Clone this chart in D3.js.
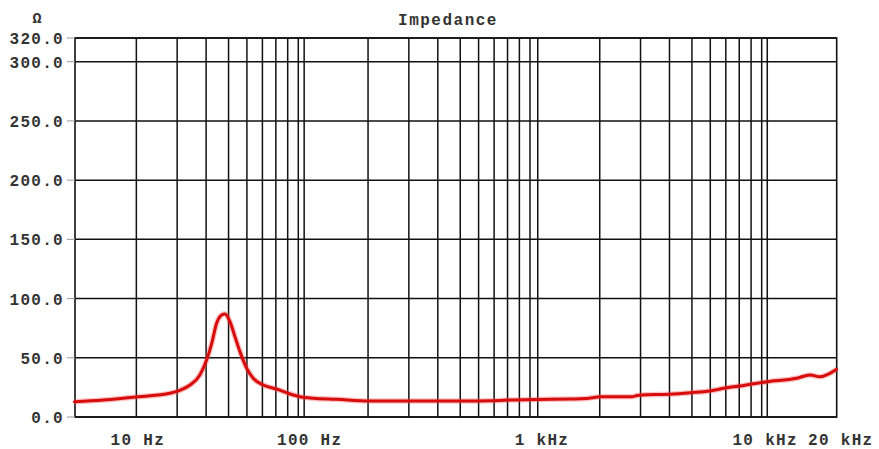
<!DOCTYPE html>
<html>
<head>
<meta charset="utf-8">
<script src="https://cdn.jsdelivr.net/npm/d3@7"></script>
<style>
  html, body { margin: 0; padding: 0; background: #fff; }
  svg { display: block; }
  text { font-family: "Liberation Mono", "DejaVu Sans Mono", monospace; }
</style>
</head>
<body>
<svg id="chart" width="879" height="449"></svg>
<script>
// ---- data ----
const title = "Impedance";
const yUnit = "Ω";
const xDomain = [10.87, 21074];          // Hz at left/right frame
const yDomain = [0, 320];                // Ω
const yTicks = [0, 50, 100, 150, 200, 250, 300, 320];
const gridFreqs = [20, 30, 40, 50, 60, 70, 80, 90,
                   100, 106, 200, 300, 400, 500, 600, 700, 800, 900,
                   1000, 1080, 2000, 3000, 4000, 5000, 6000, 7000, 8000, 9000,
                   10000, 10570];
const xLabelText = ["10 Hz", "100 Hz", "1 kHz", "10 kHz", "20 kHz"];
const xLabelFreq = [20.3, 112, 1126, 10350, 21950];
const freq = [10.8, 14.4, 20.4, 27.9, 30.6, 34.1, 37.6, 40.2, 42.3, 44.4, 46.7, 48.3,
              50.7, 53.3, 56.0, 59.9, 63.9, 70.6, 80.7, 90.5, 101.7, 116, 146, 202,
              313, 507, 692, 845, 1083, 1488, 1750, 2018, 2747, 2900, 3034, 3991, 4940,
              5985, 7066, 8056, 9053, 10575, 14155, 16154, 17851, 21074];
const ohms = [12.9, 14.4, 17.1, 20.0, 22.2, 27.0, 35.5, 48.1, 62.2, 79.1, 86.1, 87.0,
              80.5, 67.8, 55.2, 41.1, 32.7, 27.0, 23.6, 20.0, 17.1, 15.8, 14.9, 13.5,
              13.5, 13.5, 13.8, 14.4, 14.8, 15.2, 15.6, 17.1, 17.1, 18.2, 18.6, 19.2, 20.5,
              22.0, 24.7, 26.2, 27.9, 29.8, 32.7, 35.5, 34.0, 40.3];

// ---- layout ----
const L = 75, R = 836.7, T = 38, B = 417;
const svg = d3.select("#chart");
const x = d3.scaleLog().domain(xDomain).range([L, R]);
const y = d3.scaleLinear().domain(yDomain).range([B, T]);

const grid = svg.append("g").attr("stroke", "#111").attr("stroke-width", 1.5);
// horizontal grid
grid.selectAll("line.h").data(yTicks).enter().append("line")
  .attr("x1", L).attr("x2", R)
  .attr("y1", d => y(d)).attr("y2", d => y(d));
// vertical grid
grid.selectAll("line.v").data(gridFreqs).enter().append("line")
  .attr("y1", T).attr("y2", B)
  .attr("x1", d => x(d)).attr("x2", d => x(d));
// frame
svg.append("rect").attr("x", L).attr("y", T).attr("width", R - L).attr("height", B - T)
  .attr("fill", "none").attr("stroke", "#111").attr("stroke-width", 1.6);

// y tick marks and labels
svg.append("g").selectAll("line").data(yTicks).enter().append("line")
  .attr("x1", 67).attr("x2", L).attr("y1", d => y(d)).attr("y2", d => y(d))
  .attr("stroke", "#999").attr("stroke-width", 1);
svg.append("g").selectAll("text").data(yTicks).enter().append("text")
  .attr("x", 64).attr("y", d => y(d) + 6)
  .attr("text-anchor", "end")
  .attr("font-size", 16).attr("font-weight", "bold").attr("fill", "#333")
  .attr("letter-spacing", 1.3)
  .text(d => d.toFixed(1));

// x labels
svg.append("g").selectAll("text").data(xLabelText).enter().append("text")
  .attr("x", (d, i) => x(xLabelFreq[i]))
  .attr("y", 445)
  .attr("text-anchor", "middle")
  .attr("font-size", 16).attr("font-weight", "bold").attr("fill", "#333")
  .attr("letter-spacing", 1.3)
  .text(d => d);

// title + unit
svg.append("text").attr("x", 448).attr("y", 25).attr("text-anchor", "middle")
  .attr("font-size", 16).attr("font-weight", "bold").attr("fill", "#333")
  .attr("letter-spacing", 1.5).text(title);
svg.append("text").attr("x", 37).attr("y", 23).attr("text-anchor", "middle")
  .attr("font-size", 15).attr("font-weight", "bold").attr("fill", "#333")
  .text(yUnit);

// impedance curve
const pts = freq.map((f, i) => [f, ohms[i]]);
const line = d3.line().x(d => x(d[0])).y(d => y(d[1])).curve(d3.curveMonotoneX);
svg.append("path").datum(pts).attr("d", line)
  .attr("fill", "none").attr("stroke", "#f05050").attr("stroke-opacity", 0.35)
  .attr("stroke-width", 5.5).attr("stroke-linejoin", "round");
svg.append("path").datum(pts).attr("d", line)
  .attr("fill", "none").attr("stroke", "#d80c0c")
  .attr("stroke-width", 3).attr("stroke-linejoin", "round").attr("stroke-linecap", "round");
</script>
</body>
</html>
